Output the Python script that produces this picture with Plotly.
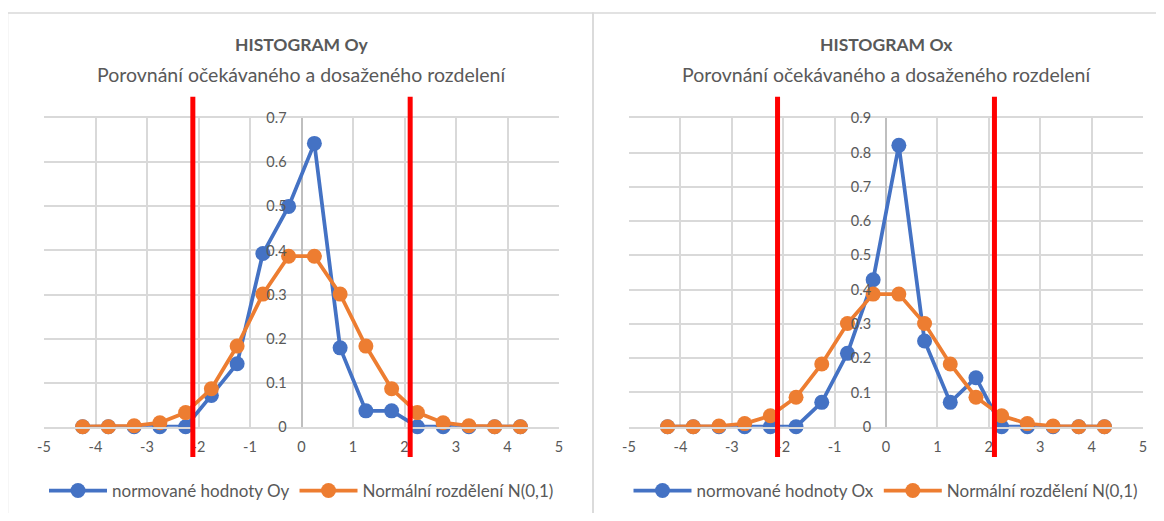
import plotly.graph_objects as go

# ---------------- data ----------------
bins = [-4.25, -3.75, -3.25, -2.75, -2.25, -1.75, -1.25, -0.75, -0.25,
        0.25, 0.75, 1.25, 1.75, 2.25, 2.75, 3.25, 3.75, 4.25]
oy_values = [0, 0, 0, 0, 0, 0.071, 0.143, 0.393, 0.5,
             0.643, 0.179, 0.036, 0.036, 0, 0, 0, 0, 0]
ox_values = [0, 0, 0, 0, 0, 0, 0.071, 0.214, 0.429,
             0.821, 0.25, 0.071, 0.143, 0, 0, 0, 0, 0]
normal_values = [0.000, 0.000, 0.002, 0.009, 0.032, 0.086, 0.183, 0.301, 0.387,
                 0.387, 0.301, 0.183, 0.086, 0.032, 0.009, 0.002, 0.000, 0.000]
critical_x = [-2.11, 2.11]

x_tickvals = [-5, -4, -3, -2, -1, 0, 1, 2, 3, 4, 5]
x_ticktext = ["-5", "-4", "-3", "-2", "-1", "0", "1", "2", "3", "4", "5"]
y_tickvals_oy = [0, 0.1, 0.2, 0.3, 0.4, 0.5, 0.6, 0.7]
y_ticktext_oy = ["0", "0.1", "0.2", "0.3", "0.4", "0.5", "0.6", "0.7"]
y_tickvals_ox = [0, 0.1, 0.2, 0.3, 0.4, 0.5, 0.6, 0.7, 0.8, 0.9]
y_ticktext_ox = ["0", "0.1", "0.2", "0.3", "0.4", "0.5", "0.6", "0.7", "0.8", "0.9"]

titles = ["HISTOGRAM Oy", "HISTOGRAM Ox"]
subtitle = "Porovnání očekávaného a dosaženého rozdelení"
blue_names = ["normované hodnoty Oy", "normované hodnoty Ox"]
orange_name = "Normální rozdělení N(0,1)"

# ---------------- styling ----------------
PAGE_W, PAGE_H = 1164, 521
OFF = 8                      # default body margin of the html page
W, H = PAGE_W - 2 * OFF, PAGE_H - 2 * OFF
FONT = "Lato"
TXT = "#595959"
GRID = "#d9d9d9"
BLUE = "#4472C4"
ORANGE = "#ED7D31"
RED = "#FF0000"

# plot areas in page pixels
left_px = (44, 559)
right_px = (629, 1143)
top_px, bottom_px = 118.3, 426.7

def px_x(p):
    return (p - OFF) / W

def px_y(p):
    return 1 - (p - OFF) / H

dom_x1 = [px_x(left_px[0]), px_x(left_px[1])]
dom_x2 = [px_x(right_px[0]), px_x(right_px[1])]
dom_y = [px_y(bottom_px), px_y(top_px)]

fig = go.Figure()

panels = [
    dict(xa="x", ya="y", xk="xaxis", yk="yaxis", dom=dom_x1, blue=oy_values,
         yt=y_tickvals_oy, ytt=y_ticktext_oy, leg="legend", name=blue_names[0], title=titles[0]),
    dict(xa="x2", ya="y2", xk="xaxis2", yk="yaxis2", dom=dom_x2, blue=ox_values,
         yt=y_tickvals_ox, ytt=y_ticktext_ox, leg="legend2", name=blue_names[1], title=titles[1]),
]

layout = dict(
    width=W, height=H,
    margin=dict(l=0, r=0, t=0, b=0),
    paper_bgcolor="white", plot_bgcolor="white",
    font=dict(family=FONT, color=TXT, size=15),
    showlegend=True,
    shapes=[], annotations=[],
)

for p in panels:
    fig.add_trace(go.Scatter(
        x=bins, y=p["blue"], mode="lines+markers", name=p["name"],
        xaxis=p["xa"], yaxis=p["ya"], legend=p["leg"],
        line=dict(color=BLUE, width=3.75), marker=dict(color=BLUE, size=15),
        cliponaxis=False,
    ))
    fig.add_trace(go.Scatter(
        x=bins, y=normal_values, mode="lines+markers", name=orange_name,
        xaxis=p["xa"], yaxis=p["ya"], legend=p["leg"],
        line=dict(color=ORANGE, width=3.75), marker=dict(color=ORANGE, size=15),
        cliponaxis=False,
    ))
    mid = (p["dom"][0] + p["dom"][1]) / 2
    layout[p["xk"]] = dict(
        domain=p["dom"], anchor=p["ya"], range=[-5, 5],
        tickmode="array", tickvals=x_tickvals, ticktext=x_ticktext,
        showgrid=True, gridcolor=GRID, gridwidth=1.5,
        zeroline=True, zerolinecolor="#bfbfbf", zerolinewidth=1.5,
        showline=True, mirror=True, linecolor=GRID, linewidth=1.5,
        ticks="outside", ticklen=6, tickcolor="rgba(0,0,0,0)",
        tickfont=dict(family=FONT, size=14.5, color=TXT),
        fixedrange=True, automargin=False,
    )
    layout[p["yk"]] = dict(
        domain=dom_y, anchor="free", position=mid, range=[0, p["yt"][-1]],
        tickmode="array", tickvals=p["yt"], ticktext=p["ytt"],
        showgrid=True, gridcolor=GRID, gridwidth=1.5,
        zeroline=True, zerolinecolor="#c8c8c8", zerolinewidth=1.5,
        showline=False,
        ticks="outside", ticklen=12, tickcolor="rgba(0,0,0,0)",
        tickfont=dict(family=FONT, size=14.5, color=TXT),
        fixedrange=True, automargin=False,
    )
    layout[p["leg"]] = dict(
        orientation="h", x=mid, xanchor="center", y=px_y(491), yanchor="middle",
        font=dict(family=FONT, size=17, color=TXT), bgcolor="rgba(0,0,0,0)",
        itemwidth=58,
    )
    # titles
    layout["annotations"].append(dict(
        xref="paper", yref="paper", x=mid, y=px_y(45), text="<b>" + p["title"] + "</b>",
        showarrow=False, xanchor="center", yanchor="middle",
        font=dict(family=FONT, size=17.5, color=TXT),
    ))
    layout["annotations"].append(dict(
        xref="paper", yref="paper", x=mid, y=px_y(74), text=subtitle,
        showarrow=False, xanchor="center", yanchor="middle",
        font=dict(family=FONT, size=19.5, color=TXT),
    ))
    # critical value lines
    for cx in critical_x:
        layout["shapes"].append(dict(
            type="line", xref=p["xa"], yref=p["ya"] + " domain",
            x0=cx, x1=cx, y0=-0.098, y1=1.07,
            line=dict(color=RED, width=5), layer="above",
        ))

# chart panel borders
layout["shapes"].append(dict(type="rect", xref="paper", yref="paper",
                             x0=px_x(7.5), x1=px_x(593), y0=-0.2, y1=px_y(13),
                             line=dict(color=GRID, width=1.5), layer="below"))
layout["shapes"].append(dict(type="rect", xref="paper", yref="paper",
                             x0=px_x(593), x1=1.2, y0=-0.2, y1=px_y(13),
                             line=dict(color=GRID, width=1.5), layer="below"))

fig.update_layout(**layout)
fig.write_html("out.html", config={"displayModeBar": False})
